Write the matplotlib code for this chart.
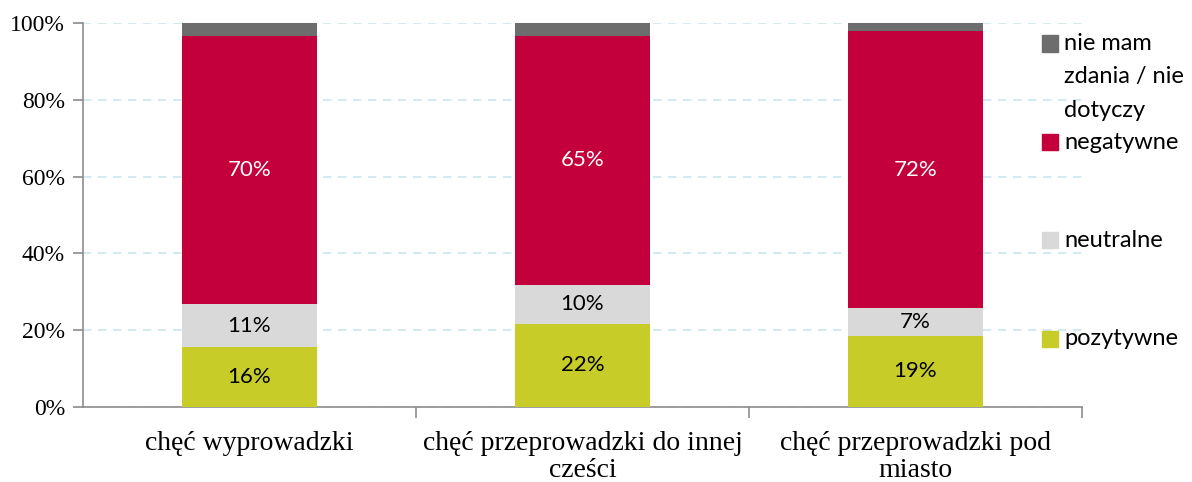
import numpy as np
import matplotlib
matplotlib.use("Agg")
import matplotlib.pyplot as plt
from matplotlib.patches import Rectangle

# data (percent shares)
categories = ["chęć wyprowadzki", "chęć przeprowadzki do innej\ncześci", "chęć przeprowadzki pod\nmiasto"]
series_names = ["pozytywne", "neutralne", "negatywne", "nie mam\nzdania / nie\ndotyczy"]
pozytywne = [15.5, 21.7, 18.6]
neutralne = [11.2, 10.0, 7.2]
negatywne = [69.8, 65.0, 72.0]
nie_mam = [3.5, 3.3, 2.2]
labels_pos = ["16%", "22%", "19%"]
labels_neu = ["11%", "10%", "7%"]
labels_neg = ["70%", "65%", "72%"]

colors = ["#c8cc28", "#d9d9d9", "#c3003c", "#6d6d6d"]
text_colors = ["black", "black", "white", None]

serif = "Liberation Serif"
sans = "Lato"

fig = plt.figure(figsize=(11.92, 4.82), dpi=100)
ax = fig.add_axes([0.0696, 0.1556, 0.8381, 0.7967])

x = np.arange(len(categories))
series = [pozytywne, neutralne, negatywne, nie_mam]
seg_labels = [labels_pos, labels_neu, labels_neg, None]
bottom = np.zeros(len(categories))
for vals, col, lbls, tc in zip(series, colors, seg_labels, text_colors):
    vals = np.array(vals)
    ax.bar(x, vals, 0.405, bottom=bottom, color=col, zorder=3)
    if lbls is not None:
        for xi, b, v, t in zip(x, bottom, vals, lbls):
            ax.text(xi, b + v / 2, t, ha="center", va="center", color=tc,
                    fontsize=16, family=sans, zorder=4)
    bottom = bottom + vals

ax.set_xlim(-0.5, 2.5)
ax.set_ylim(0, 100)
ax.set_yticks(np.arange(0, 101, 20))
ax.set_yticklabels([f"{v}%" for v in range(0, 101, 20)], family=serif, fontsize=17)
ax.yaxis.grid(True, color="#cde6ee", linestyle=(0, (5, 4)), linewidth=1.2, zorder=0)

ax.set_xticks(x)
ax.set_xticklabels(categories, family=serif, fontsize=20, linespacing=1.15)
ax.tick_params(axis="x", length=0, pad=17)
# ticks between categories
ax.set_xticks([0.5, 1.5, 2.5], minor=True)
ax.tick_params(axis="x", which="minor", length=8, color="#8c8c8c", width=1.2)
ax.tick_params(axis="y", length=7, color="#8c8c8c", width=1.2, pad=6)

for s in ["top", "right"]:
    ax.spines[s].set_visible(False)
for s in ["left", "bottom"]:
    ax.spines[s].set_color("#8c8c8c")
    ax.spines[s].set_linewidth(1.2)

# legend drawn by hand to keep Excel-like spacing
leg_order = [3, 2, 1, 0]
leg_y = [0.910, 0.705, 0.502, 0.297]
for i, yy in zip(leg_order, leg_y):
    fig.patches.append(Rectangle((0.8745, yy - 0.0170), 0.0135, 0.034,
                                 transform=fig.transFigure, color=colors[i]))
    if i == 3:
        fig.text(0.893, 0.932, series_names[i], ha="left", va="top", family=sans,
                 fontsize=17, linespacing=1.74)
    else:
        fig.text(0.893, yy, series_names[i], ha="left", va="center",
                 family=sans, fontsize=17)

fig.savefig("out.png", dpi=100)
